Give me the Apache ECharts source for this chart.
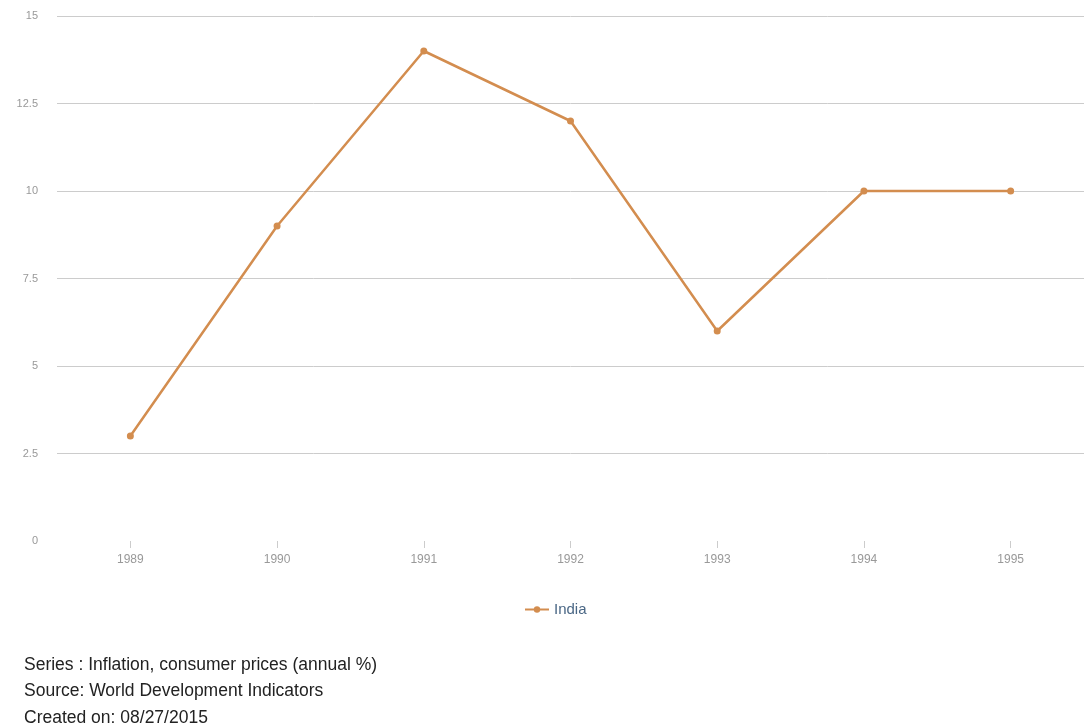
<!DOCTYPE html>
<html><head><meta charset="utf-8">
<script src="https://cdn.jsdelivr.net/npm/echarts@6/dist/echarts.min.js"></script>
<style>html,body{margin:0;padding:0;background:#fff;}#c{width:1084px;height:728px;}</style>
</head><body><div id="c"></div>
<script>
const years = ['1989','1990','1991','1992','1993','1994','1995'];
const india = [3, 9, 14, 12, 6, 10, 10];
const yTicks = {min: 0, max: 15, interval: 2.5};
const notes = ['Series : Inflation, consumer prices (annual %)', 'Source: World Development Indicators', 'Created on: 08/27/2015'];

const FF = 'Arial, Liberation Sans, sans-serif';
const chart = echarts.init(document.getElementById('c'));
chart.setOption({
  animation: false,
  grid: {left: 57, right: 0, top: 16, bottom: 187, containLabel: false},
  legend: {
    data: ['India'], top: 597, left: 519, itemWidth: 24, itemHeight: 8, itemGap: 8,
    textStyle: {color: '#4a6785', fontSize: 15, fontFamily: FF}
  },
  xAxis: {
    type: 'category', data: years, boundaryGap: true,
    axisLine: {show: false},
    axisTick: {show: true, alignWithLabel: true, length: 7, lineStyle: {color: '#ccc'}},
    axisLabel: {color: '#999', fontSize: 12, margin: 13, fontFamily: FF}
  },
  yAxis: {
    type: 'value', min: yTicks.min, max: yTicks.max, interval: yTicks.interval,
    axisLine: {show: false}, axisTick: {show: false},
    axisLabel: {color: '#999', fontSize: 11, margin: 19, fontFamily: FF},
    splitLine: {show: true, showMinLine: false, lineStyle: {color: '#ccc', width: 1}}
  },
  series: [{
    name: 'India', type: 'line', data: india,
    symbol: 'circle', symbolSize: 7,
    lineStyle: {color: '#d38d4f', width: 2.5},
    itemStyle: {color: '#d38d4f'}
  }],
  graphic: notes.map((t, i) => ({
    type: 'text', left: 24, top: 656 + i * 26.5,
    style: {text: t, fill: '#222', fontSize: 17.5, fontFamily: FF}
  }))
});
</script></body></html>
